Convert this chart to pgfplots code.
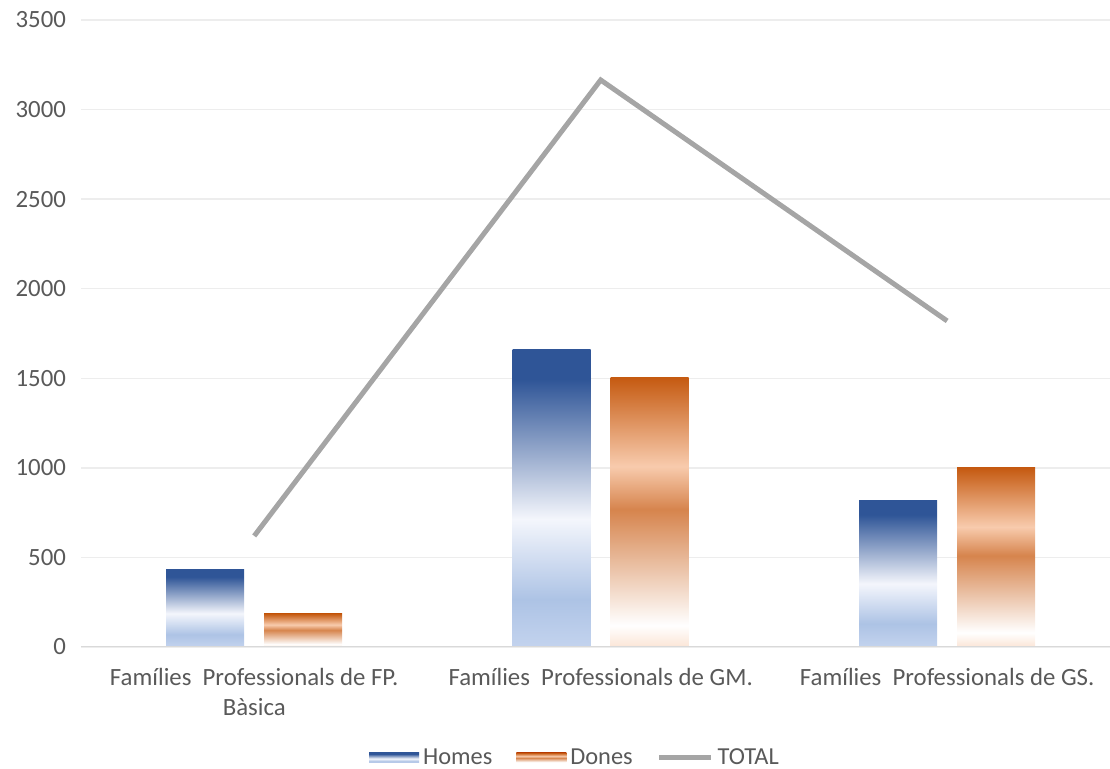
\documentclass[border=0pt]{standalone}
\usepackage{fontspec}
\setmainfont{Carlito}
\usepackage{pgfplots}
\pgfplotsset{compat=1.18}

\definecolor{txt}{HTML}{595959}
\definecolor{gridc}{HTML}{EDEDED}
\definecolor{basec}{HTML}{D9D9D9}
\definecolor{totalc}{HTML}{A5A5A5}
% Homes
\definecolor{hdark}{HTML}{2F5597}
\definecolor{hwhite}{HTML}{F4F6FC}
\definecolor{hlight}{HTML}{ADC3E5}
\definecolor{hbot}{HTML}{C3D3EE}
% Dones
\definecolor{ddark}{HTML}{C55A11}
\definecolor{dpeach}{HTML}{F8CBAD}
\definecolor{dmid}{HTML}{D6844D}
\definecolor{dwhite}{HTML}{FFFFFF}
\definecolor{dbot}{HTML}{FBE5D6}

% 25bp = bottom of bar, 75bp = top of bar
\pgfdeclareverticalshading{homes}{100bp}{color(0bp)=(hbot); color(25bp)=(hbot);
  color(33bp)=(hlight); color(46.5bp)=(hwhite); color(70bp)=(hdark);
  color(75bp)=(hdark); color(100bp)=(hdark)}
\pgfdeclareverticalshading{dones}{100bp}{color(0bp)=(dbot); color(25bp)=(dbot);
  color(29bp)=(dwhite); color(50.5bp)=(dmid); color(58.5bp)=(dpeach);
  color(75bp)=(ddark); color(100bp)=(ddark)}

\pgfplotsset{
  shadedbar/.style={ybar, bar width=39pt, draw=none, shade, shading=#1,
    legend image code/.code={\path[##1] (0pt,-2.5pt) rectangle (25pt,2.5pt);}},
  homes/.style={shadedbar=homes, bar shift=-24.5pt},
  dones/.style={shadedbar=dones, bar shift=24.5pt},
  totalline/.style={sharp plot, draw=totalc, line width=2.5pt, mark=none,
    legend image code/.code={\draw[##1] (0pt,0pt) -- (26pt,0pt);}},
}

\begin{document}
\begin{tikzpicture}
\begin{axis}[
  scale only axis,
  width=514.5pt, height=313.5pt,
  xmin=-0.5, xmax=2.47,
  ymin=0, ymax=3500,
  ytick={0,500,...,3500},
  xtick={0,1,2},
  xticklabels={{Famílies\ \ Professionals de FP.\\Bàsica},
               {Famílies\ \ Professionals de GM.},
               {Famílies\ \ Professionals de GS.}},
  xticklabel style={align=center, yshift=-7pt},
  yticklabel style={xshift=-4pt},
  ticklabel style={font=\fontsize{12.4}{15}\selectfont, text=txt},
  /pgf/number format/assume math mode=true,
  /pgf/number format/1000 sep={},
  scaled y ticks=false,
  ymajorgrids,
  grid style={draw=gridc, line width=0.7pt},
  axis line style={draw=none},
  tick style={draw=none},
  major tick length=0pt,
  legend style={at={(0.481,-0.177)}, anchor=center, draw=none,
    font=\fontsize{12.2}{14}\selectfont, text=txt,
    inner sep=1pt, legend columns=-1,
    /tikz/every even column/.append style={column sep=10pt}},
]
\coordinate (O) at (rel axis cs:0,0);

% one bar per \addplot, so that each bar gets its own shading
\addplot[homes] coordinates {(0,435)};
\addlegendentry{Homes}
\addplot[dones] coordinates {(0,185)};
\addlegendentry{Dones}
\addplot[homes, forget plot] coordinates {(1,1660)};
\addplot[homes, forget plot] coordinates {(2,820)};
\addplot[dones, forget plot] coordinates {(1,1505)};
\addplot[dones, forget plot] coordinates {(2,1000)};

\addplot[totalline] coordinates {
  (0,620) (1,3165) (2,1820)
};
\addlegendentry{TOTAL}

\draw[basec, line width=0.8pt] (rel axis cs:0,0) -- (rel axis cs:1,0);
\end{axis}
\pgfresetboundingbox
\path (O) ++(-40.5pt,-61pt) rectangle ++(555pt,384.5pt);
\end{tikzpicture}
\end{document}
